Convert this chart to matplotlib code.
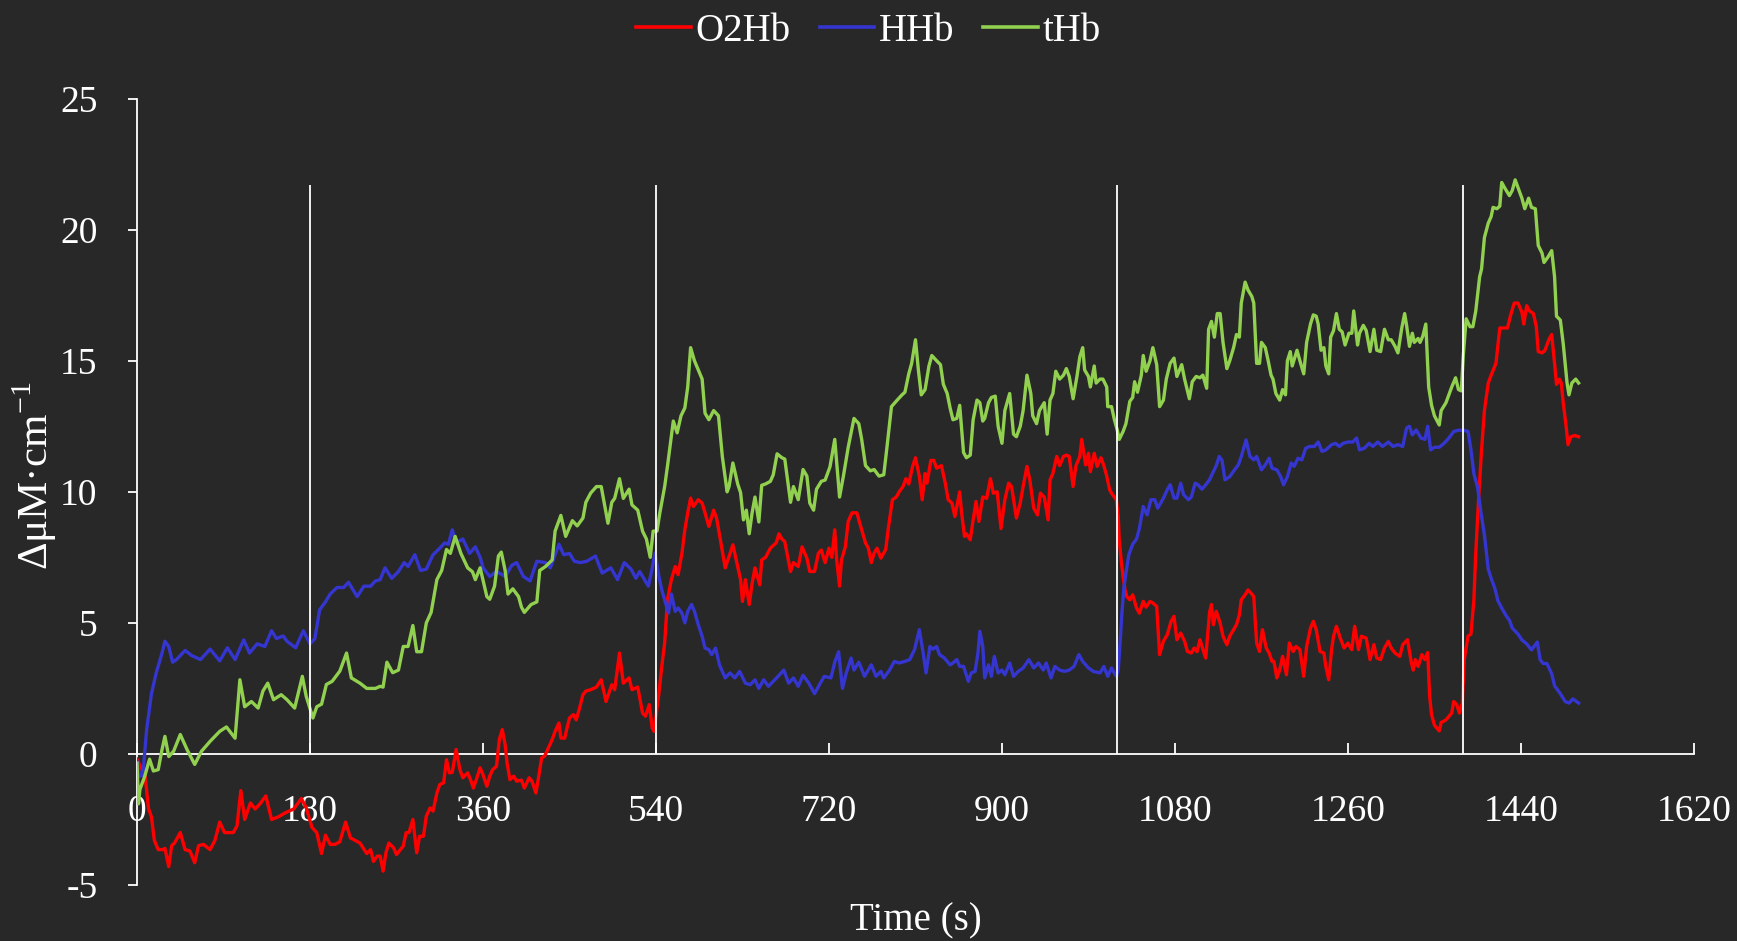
import matplotlib
matplotlib.use("Agg")
import matplotlib.pyplot as plt

# ---------------------------------------------------------------- data
# O2Hb (oxygenated haemoglobin), time in s / change in uM*cm
t_o2hb = [0, 5, 8, 12, 15, 18, 22, 27, 29, 33, 36, 39, 45, 50, 55, 60, 64, 69, 76, 81,
          86, 91, 100, 104, 108, 112, 118, 123, 128, 134, 140, 147, 154, 163, 171, 176, 182, 187, 192, 196,
          201, 206, 211, 217, 222, 232, 239, 243, 246, 250, 253, 256, 259, 262, 267, 270, 274, 277, 280, 283,
          287, 291, 294, 298, 301, 305, 308, 312, 315, 319, 322, 325, 328, 332, 336, 339, 344, 347, 350, 353,
          357, 360, 364, 367, 370, 374, 377, 380, 383, 385, 388, 392, 395, 400, 403, 408, 411, 415, 418, 421,
          424, 428, 432, 435, 439, 441, 445, 447, 450, 454, 457, 460, 464, 467, 472, 478, 483, 488, 494, 497,
          502, 506, 512, 515, 521, 526, 529, 533, 536, 538, 540, 543, 546, 549, 552, 556, 560, 563, 567, 570,
          573, 576, 579, 584, 588, 591, 595, 600, 603, 607, 612, 616, 620, 625, 628, 630, 633, 637, 640, 643,
          648, 650, 654, 659, 665, 668, 671, 674, 680, 683, 688, 692, 697, 700, 705, 709, 712, 716, 720, 723,
          726, 728, 731, 733, 737, 740, 744, 749, 753, 758, 761, 764, 767, 770, 774, 779, 782, 786, 790, 793,
          797, 800, 803, 807, 810, 814, 817, 820, 822, 826, 829, 832, 837, 841, 844, 848, 851, 856, 858, 861,
          863, 867, 870, 873, 876, 880, 884, 888, 891, 895, 899, 903, 907, 910, 915, 919, 922, 926, 929, 933,
          937, 940, 944, 948, 950, 953, 957, 960, 964, 967, 970, 974, 977, 981, 983, 987, 990, 992, 996, 999,
          1003, 1006, 1009, 1012, 1015, 1019, 1021, 1022, 1024, 1026, 1028, 1030, 1033, 1036, 1040, 1043, 1047, 1050, 1054, 1057,
          1061, 1064, 1068, 1072, 1076, 1079, 1082, 1086, 1090, 1093, 1097, 1100, 1103, 1106, 1109, 1112, 1116, 1118, 1120, 1123,
          1127, 1130, 1134, 1137, 1141, 1144, 1147, 1149, 1153, 1156, 1160, 1162, 1165, 1168, 1171, 1175, 1178, 1181, 1183, 1186,
          1189, 1192, 1196, 1199, 1203, 1206, 1210, 1214, 1217, 1221, 1224, 1227, 1231, 1235, 1237, 1240, 1243, 1245, 1248, 1252,
          1256, 1260, 1264, 1267, 1271, 1274, 1279, 1283, 1287, 1290, 1294, 1298, 1302, 1305, 1309, 1314, 1317, 1322, 1326, 1328,
          1330, 1333, 1337, 1340, 1343, 1345, 1347, 1350, 1355, 1357, 1362, 1368, 1370, 1373, 1376, 1379, 1381, 1385, 1388, 1391,
          1393, 1396, 1399, 1402, 1406, 1409, 1414, 1418, 1421, 1426, 1429, 1433, 1437, 1441, 1443, 1446, 1449, 1453, 1456, 1458,
          1462, 1465, 1469, 1472, 1475, 1477, 1480, 1482, 1484, 1487, 1489, 1492, 1496, 1500]
o2hb = [-0.2, -0.6, -0.7, -2.1, -2.4, -3.3, -3.65, -3.65, -3.6, -4.3, -3.5, -3.4, -3.0, -3.65, -3.7, -4.15, -3.5, -3.45, -3.65, -3.3,
        -2.6, -3.0, -3.0, -2.75, -1.4, -2.5, -1.87, -2.1, -1.9, -1.6, -2.5, -2.4, -2.25, -2.1, -1.7, -2.05, -2.8, -3.0, -3.8, -3.1,
        -3.45, -3.45, -3.35, -2.6, -3.2, -3.4, -3.8, -3.65, -4.1, -3.9, -3.9, -4.47, -3.77, -3.4, -3.58, -3.84, -3.65, -3.52, -3.0, -3.0,
        -2.5, -3.77, -3.14, -3.14, -2.37, -2.06, -2.18, -1.49, -1.17, -1.1, -0.22, -0.72, -0.7, 0.17, -0.6, -0.91, -0.72, -0.98, -1.3, -0.98,
        -0.53, -0.79, -1.23, -0.85, -0.6, -0.47, 0.55, 0.93, 0.36, -0.34, -0.98, -0.85, -1.04, -1.0, -1.3, -0.91, -1.04, -1.49, -0.85, -0.15,
        -0.09, 0.23, 0.55, 0.86, 1.18, 0.61, 0.6, 0.93, 1.37, 1.5, 1.3, 1.69, 2.26, 2.4, 2.45, 2.55, 2.83, 2.0, 2.64, 2.45,
        3.85, 2.7, 2.9, 2.45, 2.55, 1.56, 1.44, 1.88, 1.0, 0.86, 1.44, 2.3, 3.34, 4.23, 5.9, 6.65, 7.15, 6.84, 7.66, 8.55,
        9.2, 9.76, 9.44, 9.7, 9.57, 9.2, 8.68, 9.3, 9.0, 8.17, 7.1, 7.53, 7.98, 7.15, 6.65, 5.82, 6.65, 5.7, 6.5, 7.1,
        6.45, 7.4, 7.5, 7.85, 8.05, 8.4, 8.2, 8.1, 6.96, 7.3, 7.15, 7.9, 7.47, 6.96, 6.96, 7.66, 7.78, 7.3, 7.85, 7.5,
        8.55, 7.4, 6.4, 7.4, 7.9, 8.87, 9.2, 9.2, 8.68, 8.05, 7.85, 7.3, 7.66, 7.85, 7.47, 7.8, 8.68, 9.7, 9.8, 10.0,
        10.2, 10.5, 10.3, 10.97, 11.3, 10.6, 9.7, 10.7, 10.33, 11.2, 11.2, 10.9, 11.0, 10.33, 9.7, 9.57, 9.06, 10.0, 9.2, 8.3,
        8.4, 8.17, 8.93, 9.63, 8.87, 9.8, 9.75, 10.5, 9.95, 10.0, 8.6, 9.7, 10.33, 10.2, 9.0, 9.57, 10.2, 10.97, 10.45, 9.38,
        9.12, 9.95, 9.8, 8.93, 10.45, 10.7, 11.35, 11.0, 11.35, 11.4, 11.35, 10.2, 11.0, 11.35, 12.0, 11.03, 11.47, 10.77, 11.47, 10.97,
        11.3, 11.0, 10.6, 10.08, 9.89, 9.7, 9.06, 8.17, 7.4, 6.77, 6.26, 6.0, 5.88, 6.07, 5.57, 5.37, 5.82, 5.6, 5.82, 5.76,
        5.63, 3.79, 4.3, 4.55, 5.06, 5.25, 4.36, 4.61, 4.3, 3.91, 3.85, 4.04, 3.9, 4.36, 4.0, 3.66, 5.4, 5.7, 4.93, 5.44,
        5.0, 4.49, 4.17, 4.49, 4.74, 4.93, 5.3, 5.88, 6.07, 6.26, 6.1, 6.0, 4.23, 3.91, 4.74, 4.04, 3.85, 3.53, 3.53, 2.9,
        3.2, 3.72, 3.02, 4.23, 3.91, 4.1, 3.98, 2.96, 4.1, 4.8, 5.06, 4.74, 3.91, 3.85, 3.34, 2.83, 3.98, 4.49, 4.87, 4.42,
        4.04, 4.23, 3.98, 4.87, 3.98, 4.49, 4.42, 3.6, 4.17, 3.66, 3.6, 4.04, 4.3, 4.04, 3.85, 3.72, 4.17, 4.36, 3.47, 3.2,
        3.6, 3.34, 3.79, 3.6, 3.87, 2.2, 1.5, 1.1, 0.88, 1.2, 1.3, 1.56, 2.0, 1.9, 1.56, 1.94, 3.6, 4.5, 4.57, 5.86,
        7.66, 9.77, 11.58, 13.1, 14.15, 14.45, 14.9, 16.25, 16.25, 16.25, 16.7, 17.2, 17.2, 16.85, 16.4, 17.1, 16.9, 16.8, 16.3, 15.35,
        15.3, 15.4, 15.8, 16.0, 14.9, 14.1, 14.3, 14.15, 13.4, 12.5, 11.8, 12.1, 12.15, 12.1]

# HHb (deoxygenated haemoglobin)
t_hhb = [0, 3, 6, 10, 15, 20, 26, 29, 33, 37, 41, 50, 57, 66, 76, 86, 94, 102, 111, 117,
         125, 133, 140, 145, 152, 156, 165, 173, 180, 185, 190, 196, 201, 208, 215, 220, 229, 236, 243, 248,
         253, 258, 265, 272, 278, 282, 289, 295, 301, 308, 315, 320, 324, 328, 332, 339, 346, 352, 357, 360,
         367, 374, 383, 390, 395, 402, 409, 416, 425, 430, 439, 444, 450, 455, 461, 468, 477, 484, 493, 500,
         507, 514, 519, 523, 528, 532, 535, 539, 543, 546, 549, 553, 556, 560, 563, 567, 570, 573, 577, 580,
         584, 588, 591, 595, 598, 602, 606, 612, 617, 622, 627, 633, 638, 643, 647, 652, 657, 662, 667, 673,
         678, 683, 688, 693, 699, 705, 710, 715, 722, 726, 730, 734, 738, 743, 746, 751, 757, 764, 769, 774,
         777, 783, 788, 793, 799, 804, 809, 814, 818, 821, 825, 828, 832, 835, 840, 846, 849, 853, 856, 860,
         865, 868, 872, 875, 877, 880, 882, 886, 889, 892, 896, 900, 903, 908, 912, 917, 922, 928, 933, 938,
         943, 946, 951, 955, 960, 965, 970, 975, 980, 984, 990, 995, 1002, 1006, 1010, 1014, 1019, 1021, 1023, 1025,
         1027, 1029, 1032, 1036, 1040, 1043, 1047, 1051, 1055, 1059, 1062, 1064, 1068, 1072, 1075, 1079, 1082, 1086, 1089, 1094,
         1097, 1101, 1104, 1108, 1112, 1116, 1119, 1123, 1126, 1129, 1132, 1137, 1142, 1146, 1149, 1152, 1154, 1158, 1162, 1165,
         1170, 1174, 1178, 1181, 1186, 1190, 1193, 1197, 1201, 1204, 1208, 1212, 1216, 1220, 1225, 1229, 1233, 1237, 1243, 1247,
         1251, 1255, 1260, 1265, 1269, 1272, 1277, 1282, 1286, 1291, 1296, 1302, 1307, 1312, 1317, 1321, 1324, 1327, 1331, 1336,
         1340, 1343, 1346, 1350, 1355, 1360, 1365, 1370, 1375, 1380, 1385, 1388, 1391, 1395, 1398, 1402, 1406, 1409, 1413, 1416,
         1421, 1425, 1428, 1431, 1437, 1441, 1446, 1451, 1457, 1460, 1463, 1467, 1472, 1475, 1481, 1486, 1490, 1494, 1500]
hhb = [-0.3, -0.85, -0.8, 0.93, 2.3, 3.1, 3.85, 4.3, 4.1, 3.5, 3.6, 3.95, 3.75, 3.6, 4.0, 3.55, 4.05, 3.6, 4.35, 3.85,
       4.2, 4.1, 4.7, 4.4, 4.5, 4.3, 4.05, 4.7, 4.2, 4.4, 5.5, 5.8, 6.1, 6.35, 6.35, 6.55, 6.0, 6.4, 6.4, 6.6,
       6.65, 7.1, 6.7, 6.96, 7.3, 7.15, 7.6, 7.0, 7.05, 7.6, 7.85, 8.05, 8.0, 8.55, 8.05, 8.2, 7.65, 7.9, 7.5, 7.1,
       6.77, 6.96, 6.77, 7.2, 7.3, 6.77, 6.6, 7.35, 7.3, 7.1, 8.0, 7.6, 7.65, 7.35, 7.3, 7.35, 7.55, 6.9, 7.1, 6.65,
       7.3, 7.05, 6.7, 6.96, 6.65, 6.4, 6.9, 7.66, 6.77, 6.26, 5.88, 5.37, 6.1, 5.44, 5.57, 5.37, 5.0, 5.44, 5.7, 5.44,
       4.93, 4.49, 4.04, 3.98, 3.79, 4.04, 3.4, 2.9, 3.09, 2.9, 3.15, 2.7, 2.64, 2.83, 2.5, 2.83, 2.58, 2.77, 2.96, 3.2,
       2.7, 2.9, 2.58, 3.0, 2.7, 2.3, 2.64, 2.96, 2.9, 3.5, 3.9, 2.5, 3.09, 3.66, 3.2, 3.5, 2.96, 3.4, 2.96, 3.15,
       2.9, 3.2, 3.53, 3.47, 3.53, 3.6, 3.98, 4.74, 3.85, 3.09, 4.1, 4.0, 4.1, 3.79, 3.66, 3.4, 3.47, 3.6, 3.34, 3.34,
       2.77, 3.09, 3.15, 3.85, 4.68, 4.1, 2.9, 3.4, 2.96, 3.72, 3.09, 3.2, 3.02, 3.47, 2.96, 3.15, 3.28, 3.6, 3.28, 3.47,
       3.2, 3.47, 2.9, 3.34, 3.2, 3.15, 3.2, 3.34, 3.79, 3.53, 3.28, 3.15, 3.09, 3.34, 2.96, 3.28, 2.96, 3.2, 4.3, 5.5,
       6.4, 6.9, 7.6, 8.0, 8.2, 8.6, 9.44, 9.12, 9.7, 9.7, 9.38, 9.5, 9.76, 10.08, 10.27, 9.76, 9.76, 10.33, 9.89, 9.7,
       9.8, 10.33, 10.27, 10.1, 10.27, 10.46, 10.7, 11.0, 11.35, 11.2, 10.46, 10.58, 10.84, 11.03, 11.35, 11.73, 11.98, 11.35, 11.22, 11.35,
       10.84, 11.03, 11.28, 10.9, 10.84, 10.58, 10.27, 10.58, 11.1, 10.97, 11.28, 11.22, 11.66, 11.73, 11.73, 11.9, 11.54, 11.6, 11.8, 11.85,
       11.73, 11.85, 11.9, 11.9, 12.05, 11.6, 11.66, 11.85, 11.73, 11.9, 11.73, 11.9, 11.73, 11.8, 11.73, 12.43, 12.5, 12.17, 12.36, 12.05,
       12.0, 12.5, 11.6, 11.7, 11.7, 11.85, 12.05, 12.3, 12.35, 12.35, 12.3, 11.6, 10.7, 10.15, 9.3, 8.35, 7.05, 6.7, 6.3, 5.85,
       5.5, 5.25, 5.1, 4.8, 4.57, 4.35, 4.2, 3.97, 4.27, 3.6, 3.45, 3.45, 3.06, 2.6, 2.3, 2.0, 1.94, 2.1, 1.94]

# tHb (total haemoglobin)
t_thb = [0, 1.5, 3, 8, 13, 17, 22, 26, 29, 33, 38, 45, 52, 60, 67, 76, 86, 93, 102, 107,
         112, 119, 126, 131, 136, 142, 150, 156, 164, 172, 176, 183, 187, 192, 197, 203, 211, 218, 223, 232,
         239, 248, 253, 256, 260, 266, 272, 277, 282, 287, 291, 296, 301, 306, 312, 317, 322, 326, 331, 337,
         344, 349, 352, 357, 364, 367, 372, 376, 379, 383, 386, 391, 397, 400, 403, 410, 416, 419, 425, 432,
         435, 441, 446, 453, 458, 464, 467, 472, 478, 483, 490, 494, 497, 502, 506, 512, 515, 521, 526, 530,
         534, 537, 541, 544, 549, 552, 558, 562, 566, 570, 573, 576, 580, 584, 588, 591, 595, 600, 605, 609,
         614, 616, 620, 625, 628, 631, 634, 637, 640, 643, 647, 650, 654, 659, 662, 666, 671, 674, 680, 683,
         688, 693, 697, 700, 704, 707, 712, 716, 721, 726, 729, 731, 735, 740, 743, 746, 751, 754, 758, 763,
         767, 772, 777, 780, 785, 791, 796, 799, 803, 806, 810, 813, 816, 820, 824, 827, 832, 836, 839, 843,
         846, 849, 853, 856, 860, 863, 867, 870, 874, 877, 880, 882, 886, 889, 893, 896, 900, 903, 908, 912,
         915, 919, 922, 926, 930, 932, 936, 939, 944, 947, 950, 953, 956, 960, 964, 967, 970, 974, 978, 981,
         984, 986, 990, 992, 996, 998, 1002, 1005, 1009, 1010, 1014, 1017, 1020, 1022, 1026, 1029, 1033, 1036, 1038, 1041,
         1045, 1047, 1050, 1054, 1057, 1061, 1064, 1068, 1071, 1075, 1079, 1082, 1087, 1090, 1095, 1098, 1102, 1106, 1109, 1113,
         1115, 1118, 1121, 1124, 1127, 1130, 1134, 1137, 1141, 1144, 1147, 1149, 1153, 1156, 1160, 1162, 1165, 1168, 1170, 1174,
         1177, 1180, 1182, 1185, 1189, 1192, 1195, 1197, 1200, 1202, 1207, 1210, 1214, 1217, 1221, 1224, 1227, 1229, 1232, 1235,
         1237, 1240, 1242, 1245, 1248, 1251, 1254, 1257, 1261, 1264, 1266, 1270, 1272, 1276, 1279, 1283, 1287, 1290, 1294, 1298,
         1302, 1305, 1309, 1312, 1316, 1319, 1321, 1324, 1327, 1329, 1333, 1335, 1338, 1341, 1344, 1347, 1350, 1355, 1357, 1362,
         1368, 1372, 1375, 1378, 1380, 1383, 1387, 1390, 1393, 1397, 1399, 1402, 1406, 1409, 1411, 1415, 1418, 1420, 1423, 1428,
         1431, 1434, 1437, 1441, 1444, 1448, 1451, 1455, 1458, 1462, 1464, 1468, 1472, 1475, 1477, 1481, 1484, 1488, 1490, 1493,
         1497, 1500]
thb = [-0.35, -1.9, -1.35, -0.85, -0.2, -0.65, -0.6, 0.17, 0.67, -0.1, 0.1, 0.74, 0.17, -0.4, 0.1, 0.48, 0.86, 1.03, 0.6, 2.83,
       1.8, 2.0, 1.75, 2.4, 2.7, 2.07, 2.26, 2.07, 1.75, 2.96, 2.2, 1.37, 1.8, 1.9, 2.65, 2.77, 3.16, 3.85, 2.9, 2.7,
       2.5, 2.5, 2.58, 2.55, 3.5, 3.1, 3.2, 4.1, 4.1, 4.9, 3.9, 3.9, 5.0, 5.4, 6.65, 7.0, 7.8, 7.65, 8.3, 7.65,
       7.1, 6.95, 6.65, 7.1, 6.0, 5.9, 6.4, 7.55, 7.7, 7.0, 6.1, 6.3, 6.0, 5.6, 5.4, 5.7, 5.8, 7.0, 7.15, 7.4,
       8.5, 9.1, 8.3, 8.9, 8.7, 9.0, 9.6, 9.95, 10.2, 10.2, 8.8, 9.6, 9.75, 10.5, 9.75, 10.1, 9.5, 9.3, 8.5, 8.2,
       7.5, 8.5, 8.5, 9.2, 10.2, 11.0, 12.7, 12.25, 12.9, 13.2, 14.0, 15.5, 15.0, 14.65, 14.3, 13.0, 12.75, 13.1, 12.9, 11.35,
       10.0, 10.2, 11.1, 10.3, 9.97, 8.93, 9.3, 8.4, 9.2, 9.8, 8.85, 10.25, 10.3, 10.4, 10.65, 11.45, 11.3, 11.25, 9.6, 10.2,
       9.7, 10.85, 10.6, 9.57, 9.3, 10.1, 10.4, 10.45, 10.95, 12.0, 10.7, 9.8, 10.6, 11.7, 12.25, 12.8, 12.6, 12.0, 11.0, 10.8,
       10.85, 10.6, 10.65, 11.6, 13.25, 13.5, 13.7, 13.8, 14.5, 14.9, 15.8, 14.65, 13.7, 13.9, 14.8, 15.2, 15.0, 14.85, 14.1, 13.75,
       13.2, 12.75, 12.8, 13.3, 11.5, 11.3, 11.4, 12.75, 13.5, 13.4, 12.7, 12.8, 13.4, 13.6, 13.65, 12.5, 11.85, 13.1, 13.75, 12.2,
       12.1, 12.5, 13.1, 14.45, 13.75, 12.9, 12.6, 13.1, 13.4, 12.2, 13.5, 13.75, 14.6, 14.3, 14.45, 14.7, 14.4, 13.55, 14.4, 15.15,
       15.5, 14.65, 14.4, 14.0, 14.8, 14.15, 14.3, 14.3, 14.0, 13.25, 13.25, 12.75, 12.35, 12.0, 12.3, 12.6, 13.45, 13.6, 14.2, 13.8,
       14.45, 15.2, 14.6, 15.0, 15.5, 14.85, 13.25, 13.5, 14.3, 14.9, 15.1, 14.4, 14.85, 14.3, 13.55, 14.2, 14.4, 14.35, 14.45, 13.95,
       16.2, 16.5, 15.9, 16.8, 16.8, 15.7, 14.7, 15.0, 15.5, 16.0, 15.9, 17.2, 18.0, 17.7, 17.45, 17.2, 14.9, 14.9, 15.7, 15.5,
       15.0, 14.45, 14.3, 13.75, 13.5, 13.9, 13.7, 15.0, 15.35, 14.8, 15.4, 15.0, 14.5, 15.7, 16.4, 16.75, 16.7, 16.4, 15.4, 15.5,
       14.8, 14.5, 15.9, 16.15, 16.8, 16.2, 16.1, 15.6, 16.05, 16.05, 16.9, 15.6, 16.05, 16.35, 16.15, 15.35, 16.2, 15.4, 15.35, 16.2,
       15.8, 15.8, 15.55, 15.3, 16.25, 16.8, 16.35, 15.55, 16.05, 15.7, 15.85, 15.7, 15.95, 16.4, 14.0, 13.3, 12.9, 12.55, 13.1, 13.4,
       14.0, 14.35, 13.9, 13.85, 15.2, 16.6, 16.3, 16.3, 16.9, 18.2, 18.5, 19.7, 20.25, 20.5, 20.85, 20.8, 20.9, 21.8, 21.6, 21.3,
       21.5, 21.9, 21.6, 21.2, 20.8, 21.2, 20.85, 20.8, 19.4, 19.1, 18.75, 18.95, 19.2, 18.2, 16.7, 16.55, 15.65, 14.15, 13.7, 14.15,
       14.3, 14.15]

# protocol phase boundaries (s) and the height of their marker lines
event_times = [180, 540, 1020, 1380]
event_top = 21.7

series_names = ["O2Hb", "HHb", "tHb"]
series_colors = ["#FF0000", "#3535D0", "#92D050"]
x_ticks = list(range(0, 1621, 180))
y_ticks = list(range(-5, 26, 5))

# ---------------------------------------------------------------- style
BG = "#282828"
FG = "#FFFFFF"
FONT = ["Liberation Serif", "DejaVu Serif"]
plt.rcParams["font.family"] = FONT
plt.rcParams["mathtext.fontset"] = "custom"
plt.rcParams["mathtext.rm"] = "Liberation Serif"
plt.rcParams["axes.unicode_minus"] = False
FS = 27

fig = plt.figure(figsize=(17.37, 9.41), dpi=100, facecolor=BG)
ax = fig.add_axes([0.0789, 0.0595, 0.8963, 0.8357], facecolor=BG)

for tt, yy, name, col in zip([t_o2hb, t_hhb, t_thb], [o2hb, hhb, thb], series_names, series_colors):
    ax.plot(tt, yy, color=col, lw=2.4, label=name, solid_joinstyle="round", zorder=2)

ax.vlines(event_times, 0, event_top, colors=FG, lw=1.3, zorder=3)

ax.set_xlim(0, 1620)
ax.set_ylim(-5, 25)
ax.set_xticks(x_ticks)
ax.set_yticks(y_ticks)

for side in ("top", "right"):
    ax.spines[side].set_visible(False)
ax.spines["bottom"].set_position(("data", 0))
for side in ("left", "bottom"):
    ax.spines[side].set_color(FG)
    ax.spines[side].set_linewidth(1.3)
    ax.spines[side].set_zorder(1)

ax.tick_params(axis="x", direction="in", length=8, width=1.3, colors=FG,
               labelsize=FS, pad=29)
ax.tick_params(axis="y", direction="out", length=6.5, width=1.3, colors=FG,
               labelsize=FS, pad=22)

ax.set_xlabel("Time (s)", fontsize=FS + 1, color=FG)
ax.xaxis.set_label_coords(0.5, -0.022)
ax.set_ylabel(r"ΔμM·cm$^{\mathregular{-1}}$", fontsize=FS + 4, color=FG, va="center")
ax.yaxis.set_label_coords(-0.066, 0.52)

leg = fig.legend(loc="center", bbox_to_anchor=(0.5, 0.967), ncol=3, frameon=False,
                 fontsize=FS + 1, handlelength=1.4, handletextpad=0.12, columnspacing=0.75)
for txt in leg.get_texts():
    txt.set_color(FG)
for ln in leg.get_lines():
    ln.set_linewidth(2.6)

fig.savefig("out.png", dpi=100, facecolor=BG)
